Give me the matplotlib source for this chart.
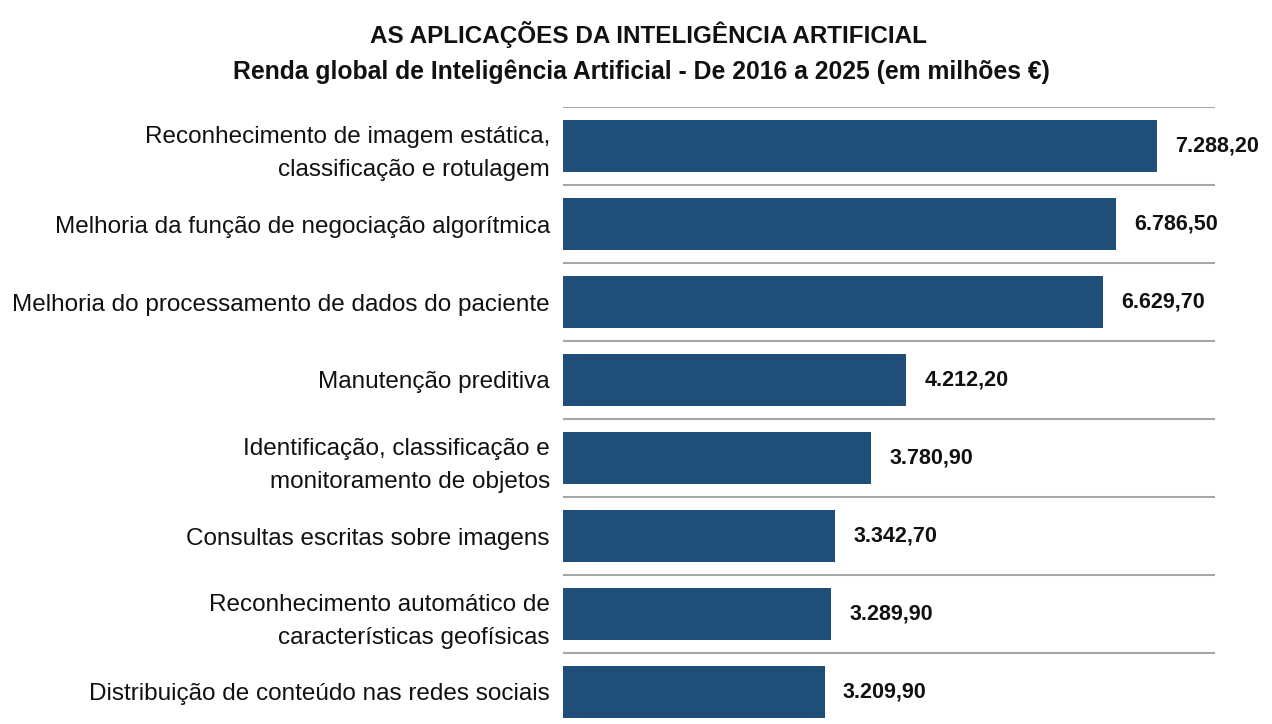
import matplotlib
matplotlib.use("Agg")
import matplotlib.pyplot as plt
from matplotlib import font_manager

names = {f.name for f in font_manager.fontManager.ttflist}
fam = ['Liberation Sans Narrow', 'DejaVu Sans'] if 'Liberation Sans Narrow' in names else ['Liberation Sans', 'DejaVu Sans']
plt.rcParams['font.family'] = fam

categories = [
    "Reconhecimento de imagem estática,\nclassificação e rotulagem",
    "Melhoria da função de negociação algorítmica",
    "Melhoria do processamento de dados do paciente",
    "Manutenção preditiva",
    "Identificação, classificação e\nmonitoramento de objetos",
    "Consultas escritas sobre imagens",
    "Reconhecimento automático de\ncaracterísticas geofísicas",
    "Distribuição de conteúdo nas redes sociais",
]
values = [7288.20, 6786.50, 6629.70, 4212.20, 3780.90, 3342.70, 3289.90, 3209.90]
value_labels = ["7.288,20", "6.786,50", "6.629,70", "4.212,20", "3.780,90", "3.342,70", "3.289,90", "3.209,90"]

title = "AS APLICAÇÕES DA INTELIGÊNCIA ARTIFICIAL"
subtitle = "Renda global de Inteligência Artificial - De 2016 a 2025 (em milhões €)"

W, H = 1272, 724
fig = plt.figure(figsize=(W / 100, H / 100), dpi=100)
ax = fig.add_axes([563 / W, 0, (1215 - 563) / W, 1 - 107 / H])

y = list(range(len(values)))
ax.barh(y, values, height=0.67, color="#1f4e79", zorder=2)
for i in range(len(values)):
    ax.axhline(i - 0.5, color="#a6a6a6", linewidth=1.5, zorder=1)
ax.set_xlim(0, 8000)
ax.set_ylim(7 + (724 - 692) / 78, -0.5)
ax.set_yticks(y)
ax.set_yticklabels(categories, fontsize=17.5, color="#111111", linespacing=1.6)
ax.tick_params(axis="y", length=0, pad=9.5)
ax.set_xticks([])
for s in ax.spines.values():
    s.set_visible(False)

for i, (v, lab) in enumerate(zip(values, value_labels)):
    ax.text(v + 18 / 0.0815, i, lab, va="center", ha="left", fontsize=15.5,
            fontweight="bold", color="#111111", clip_on=False)

fig.text(648 / W, 1 - 35 / H, title, ha="center", va="center", fontsize=17.5, fontweight="bold", color="#111111")
fig.text(641 / W, 1 - 72 / H, subtitle, ha="center", va="center", fontsize=17.8, fontweight="bold", color="#111111")

fig.savefig("out.png", dpi=100)
